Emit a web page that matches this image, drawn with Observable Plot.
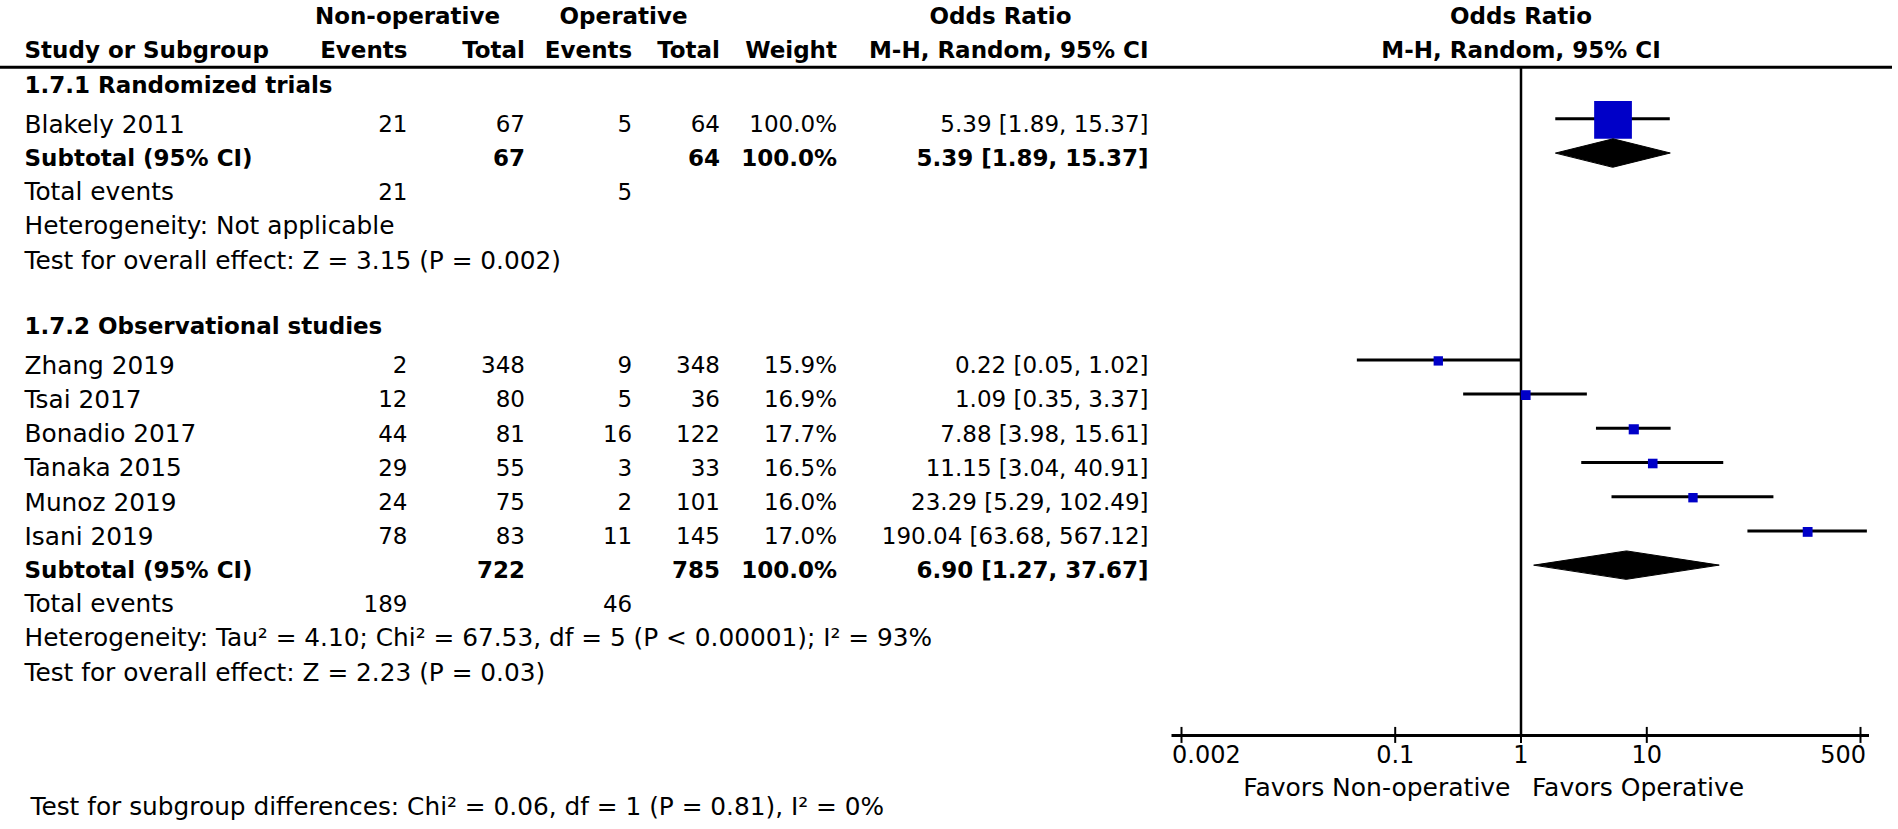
<!DOCTYPE html>
<html>
<head>
<meta charset="utf-8">
<script src="https://cdn.jsdelivr.net/npm/d3@7"></script>
<script src="https://cdn.jsdelivr.net/npm/@observablehq/plot@0.6"></script>
<style>
  html, body { margin: 0; padding: 0; background: #fff; }
  #chart { display: flex; width: 1898px; height: 829px; overflow: hidden; }
  #chart svg { display: block; flex: none; overflow: visible; }
</style>
</head>
<body>
<div id="chart"></div>
<script>
// ---------------- data ----------------
const groups = ["1.7.1 Randomized trials", "1.7.2 Observational studies"];
const studies = ["Blakely 2011", "Zhang 2019", "Tsai 2017", "Bonadio 2017", "Tanaka 2015", "Munoz 2019", "Isani 2019"];
const studyGroup = [0, 1, 1, 1, 1, 1, 1];
const nonOpEvents = [21, 2, 12, 44, 29, 24, 78];
const nonOpTotal = [67, 348, 80, 81, 55, 75, 83];
const opEvents = [5, 9, 5, 16, 3, 2, 11];
const opTotal = [64, 348, 36, 122, 33, 101, 145];
const weights = [100.0, 15.9, 16.9, 17.7, 16.5, 16.0, 17.0];
const oddsRatio = [5.39, 0.22, 1.09, 7.88, 11.15, 23.29, 190.04];
const ciLow = [1.89, 0.05, 0.35, 3.98, 3.04, 5.29, 63.68];
const ciHigh = [15.37, 1.02, 3.37, 15.61, 40.91, 102.49, 567.12];

const subNonOpTotal = [67, 722];
const subOpTotal = [64, 785];
const subWeight = [100.0, 100.0];
const subOR = [5.39, 6.90];
const subLow = [1.89, 1.27];
const subHigh = [15.37, 37.67];
const totalNonOpEvents = [21, 189];
const totalOpEvents = [5, 46];
const heterogeneity = [
  "Heterogeneity: Not applicable",
  "Heterogeneity: Tau\u00B2 = 4.10; Chi\u00B2 = 67.53, df = 5 (P < 0.00001); I\u00B2 = 93%"
];
const overallEffect = [
  "Test for overall effect: Z = 3.15 (P = 0.002)",
  "Test for overall effect: Z = 2.23 (P = 0.03)"
];
const subgroupTest = "Test for subgroup differences: Chi\u00B2 = 0.06, df = 1 (P = 0.81), I\u00B2 = 0%";
const xTicks = [0.002, 0.1, 1, 10, 500];
const headerGroups = ["Non-operative", "Operative", "Odds Ratio"];
const headerCols = ["Study or Subgroup", "Events", "Total", "Events", "Total", "Weight", "M-H, Random, 95% CI"];
const plotHeader = ["Odds Ratio", "M-H, Random, 95% CI"];
const favors = ["Favors Non-operative", "Favors Operative"];

// ---------------- layout ----------------
const FONT = "DejaVu Sans";
const FS = 23;        // numbers and bold headers
const LFS = 24.8;     // regular label text
const TEXT_DY = 6;
const BLUE = "#0000c8";
const leftW = 1160, rightW = 738, H = 829;
const col = {study: 24, bottom: 30, ev1: 407, tot1: 524.5, ev2: 631.7, tot2: 719.5, weight: 836.5, or: 1148,
             grpNon: 407, grpOp: 623, grpOR: 1000};
// row slots (one slot = one table row)
const slotHdr1 = -2.15, slotHdr2 = -1.17, slotLine = -0.51;
const slotAxis = 19.03, slotTickLab = 19.44, slotFavors = 20.38, slotBottom = 20.95;
const yScale = {domain: [1, 13], range: [118.3, 528.7], axis: null};

const fmt2 = v => v.toFixed(2);
const fmtOR = (o, l, h) => `${fmt2(o)} [${fmt2(l)}, ${fmt2(h)}]`;
const fmtW = w => w.toFixed(1) + "%";

// build rows
const studyRows = [], subRows = [], cells = [];
const cell = (x, slot, text, anchor, bold, size = FS) => cells.push({x, slot, text, anchor, bold, size});
let s = -0.15;
groups.forEach((g, gi) => {
  cell(col.study, s, g, "start", true);
  let t = s + 1.15;
  studies.forEach((name, i) => {
    if (studyGroup[i] !== gi) return;
    studyRows.push({i, slot: t, or: oddsRatio[i], lo: ciLow[i], hi: ciHigh[i], w: weights[i]});
    cell(col.study, t, name, "start", false, LFS);
    cell(col.ev1, t, String(nonOpEvents[i]), "end", false);
    cell(col.tot1, t, String(nonOpTotal[i]), "end", false);
    cell(col.ev2, t, String(opEvents[i]), "end", false);
    cell(col.tot2, t, String(opTotal[i]), "end", false);
    cell(col.weight, t, fmtW(weights[i]), "end", false);
    cell(col.or, t, fmtOR(oddsRatio[i], ciLow[i], ciHigh[i]), "end", false);
    t += 1;
  });
  subRows.push({g: gi, slot: t});
  cell(col.study, t, "Subtotal (95% CI)", "start", true);
  cell(col.tot1, t, String(subNonOpTotal[gi]), "end", true);
  cell(col.tot2, t, String(subOpTotal[gi]), "end", true);
  cell(col.weight, t, fmtW(subWeight[gi]), "end", true);
  cell(col.or, t, fmtOR(subOR[gi], subLow[gi], subHigh[gi]), "end", true);
  const te = t + 0.97;
  cell(col.study, te, "Total events", "start", false, LFS);
  cell(col.ev1, te, String(totalNonOpEvents[gi]), "end", false);
  cell(col.ev2, te, String(totalOpEvents[gi]), "end", false);
  cell(col.study, te + 1, heterogeneity[gi], "start", false, LFS);
  cell(col.study, te + 2, overallEffect[gi], "start", false, LFS);
  s = te + 2 + 1.93;
});
// headers
cell(col.grpNon, slotHdr1, headerGroups[0], "middle", true);
cell(col.grpOp, slotHdr1, headerGroups[1], "middle", true);
cell(col.grpOR, slotHdr1, headerGroups[2], "middle", true);
const hdrX = [col.study, col.ev1, col.tot1, col.ev2, col.tot2, col.weight, col.or];
headerCols.forEach((h, k) => cell(hdrX[k], slotHdr2, h, k === 0 ? "start" : "end", true));
cell(col.bottom, slotBottom, subgroupTest, "start", false, LFS);

function textMarks(data) {
  const out = [];
  const keys = Array.from(new Set(data.map(c => `${c.anchor}|${c.bold}|${c.size}`)));
  for (const key of keys) {
    const d = data.filter(c => `${c.anchor}|${c.bold}|${c.size}` === key);
    const {anchor, bold, size} = d[0];
    out.push(Plot.text(d, {x: "x", y: "slot", text: "text", textAnchor: anchor,
      fontWeight: bold ? "bold" : "normal", fontSize: size, fill: "black", dy: TEXT_DY}));
  }
  return out;
}

const style = {fontFamily: FONT, fontSize: FS + "px", background: "white", overflow: "visible", color: "black"};

// ---------------- left table panel ----------------
const left = Plot.plot({
  width: leftW, height: H, margin: 0,
  style,
  x: {type: "identity", axis: null},
  y: yScale,
  marks: [
    Plot.ruleY([slotLine], {y: d => d, strokeWidth: 3, stroke: "black"}),
    ...textMarks(cells)
  ]
});

// ---------------- right forest panel ----------------
const DH = 0.415;
const diamondPts = subRows.flatMap(({g, slot}) => [
  {g, x: subLow[g], y: slot},
  {g, x: subOR[g], y: slot - DH},
  {g, x: subHigh[g], y: slot},
  {g, x: subOR[g], y: slot + DH}
]);
const midTicks = xTicks.slice(1, -1);
const right = Plot.plot({
  width: rightW, height: H,
  marginLeft: 21, marginRight: 38, marginTop: 0, marginBottom: 0,
  style,
  x: {type: "log", domain: [xTicks[0], xTicks[xTicks.length - 1]], axis: null},
  y: yScale,
  r: {type: "pow", exponent: 0.76, domain: [0, 100], range: [0, 21.3]},
  marks: [
    Plot.ruleY([slotLine], {y: d => d, insetLeft: -21, insetRight: -32, strokeWidth: 3, stroke: "black"}),
    Plot.ruleX([1], {x: d => d, y1: () => slotLine, y2: () => slotAxis, strokeWidth: 2.5, stroke: "black"}),
    Plot.ruleY(studyRows, {y: "slot", x1: "lo", x2: "hi", strokeWidth: 3, stroke: "black"}),
    Plot.dot(studyRows, {x: "or", y: "slot", r: "w", symbol: "square", fill: BLUE, stroke: "none", dy: 1}),
    Plot.line(diamondPts, {x: "x", y: "y", z: "g", fill: "black", stroke: "black", strokeWidth: 1, curve: "linear-closed"}),
    // axis
    Plot.ruleY([slotAxis], {y: d => d, x1: () => xTicks[0], x2: () => xTicks[xTicks.length - 1],
      insetLeft: -9.5, insetRight: -9, strokeWidth: 3, stroke: "black"}),
    Plot.ruleX(xTicks, {x: d => d, y1: () => slotAxis, y2: () => slotAxis, insetTop: -8, insetBottom: -8, strokeWidth: 2, stroke: "black"}),
    Plot.text([xTicks[0]], {x: d => d, y: () => slotTickLab, text: d => String(d), textAnchor: "start", dx: -9.5, dy: TEXT_DY, fontSize: 24}),
    Plot.text(midTicks, {x: d => d, y: () => slotTickLab, text: d => String(d), textAnchor: "middle", dy: TEXT_DY, fontSize: 24}),
    Plot.text([xTicks[xTicks.length - 1]], {x: d => d, y: () => slotTickLab, text: d => String(d), textAnchor: "end", dx: 5.5, dy: TEXT_DY, fontSize: 24}),
    Plot.text([favors[0]], {x: () => 1, y: () => slotFavors, text: d => d, textAnchor: "end", dx: -10.5, dy: TEXT_DY, fontSize: 25}),
    Plot.text([favors[1]], {x: () => 1, y: () => slotFavors, text: d => d, textAnchor: "start", dx: 11, dy: TEXT_DY, fontSize: 25}),
    // header
    Plot.text([plotHeader[0]], {x: () => 1, y: () => slotHdr1, text: d => d, textAnchor: "middle", fontWeight: "bold", dy: TEXT_DY, fontSize: FS}),
    Plot.text([plotHeader[1]], {x: () => 1, y: () => slotHdr2, text: d => d, textAnchor: "middle", fontWeight: "bold", dy: TEXT_DY, fontSize: FS})
  ]
});

const chart = document.getElementById("chart");
chart.appendChild(left);
chart.appendChild(right);
</script>
</body>
</html>
